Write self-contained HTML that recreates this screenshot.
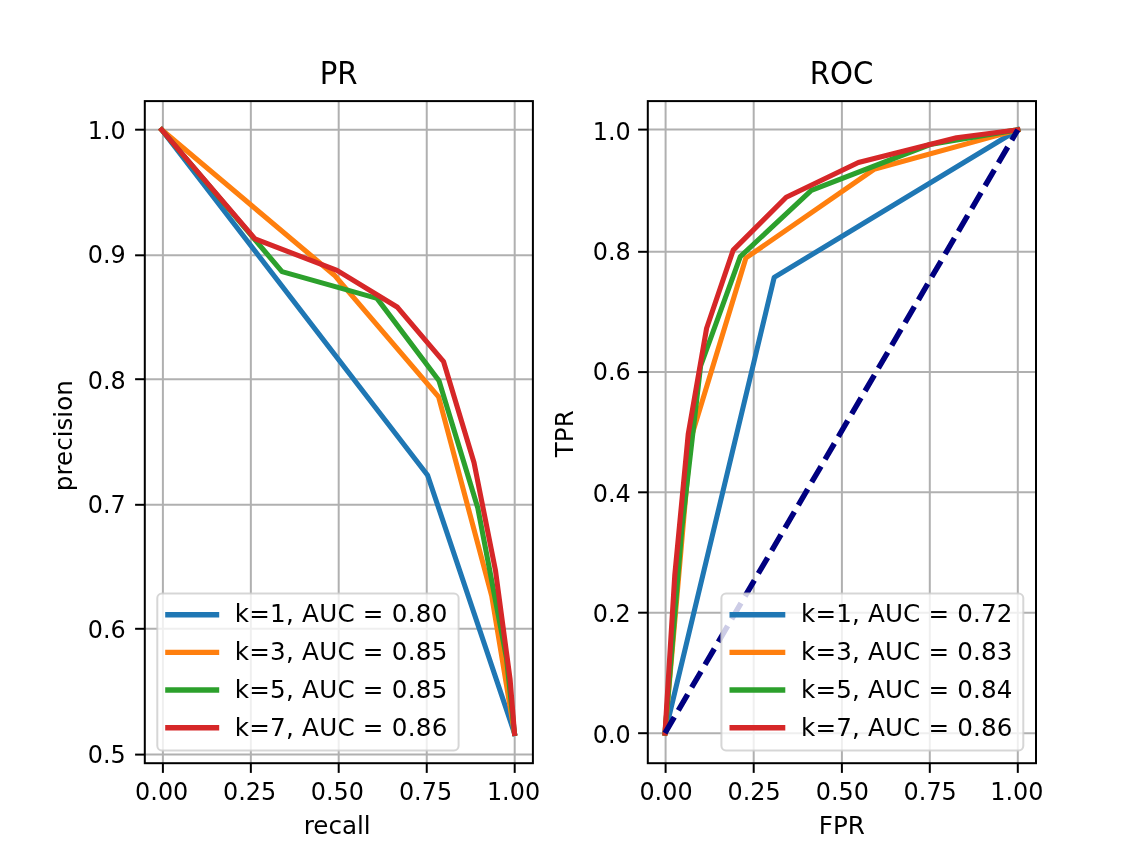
<!DOCTYPE html>
<html lang="en"><head><meta charset="utf-8"><title>PR and ROC curves</title>
<style>html,body{margin:0;padding:0;background:#fff;overflow:hidden}svg{display:block;filter:blur(0.5px)}</style>
</head><body>
<svg width="1142" height="852" viewBox="0 0 1142 852" font-family="'DejaVu Sans','Liberation Sans',sans-serif" font-size="24.6" fill="#000">
<rect width="1142" height="852" fill="#fff"/>
<defs>
<clipPath id="cl"><rect x="144.8" y="101.1" width="388.1" height="662.1"/></clipPath>
<clipPath id="cr"><rect x="647.8" y="101.1" width="388.2" height="662.1"/></clipPath>
</defs>
<g stroke="#b0b0b0" stroke-width="2.0" fill="none">
<line x1="162.9" y1="101.1" x2="162.9" y2="763.2"/>
<line x1="250.85" y1="101.1" x2="250.85" y2="763.2"/>
<line x1="338.7" y1="101.1" x2="338.7" y2="763.2"/>
<line x1="426.75" y1="101.1" x2="426.75" y2="763.2"/>
<line x1="514.7" y1="101.1" x2="514.7" y2="763.2"/>
<line x1="144.8" y1="129.7" x2="532.9" y2="129.7"/>
<line x1="144.8" y1="255.3" x2="532.9" y2="255.3"/>
<line x1="144.8" y1="379.2" x2="532.9" y2="379.2"/>
<line x1="144.8" y1="504.8" x2="532.9" y2="504.8"/>
<line x1="144.8" y1="628.8" x2="532.9" y2="628.8"/>
<line x1="144.8" y1="754.6" x2="532.9" y2="754.6"/>
</g>
<g clip-path="url(#cl)" fill="none" stroke-width="5.1" stroke-linejoin="round" stroke-linecap="square">
<polyline stroke="#1f77b4" points="161.7,129.8 427.6,475.2 514.5,733.4"/>
<polyline stroke="#ff7f0e" points="161.7,129.8 334.4,275.2 438.6,396.9 491.7,595.9 514.5,733.4"/>
<polyline stroke="#2ca02c" points="161.7,129.8 282.0,271.6 377.0,298.4 439.0,380.7 477.8,508.0 506.5,658.0 514.5,733.4"/>
<polyline stroke="#d62728" points="161.7,129.8 255.0,238.9 337.0,270.4 397.5,307.3 443.6,361.7 474.0,462.4 495.5,570.5 510.1,679.4 514.5,733.4"/>

</g>
<g stroke="#000" stroke-width="2.0">
<line x1="162.9" y1="763.2" x2="162.9" y2="772.9000000000001"/>
<line x1="250.85" y1="763.2" x2="250.85" y2="772.9000000000001"/>
<line x1="338.7" y1="763.2" x2="338.7" y2="772.9000000000001"/>
<line x1="426.75" y1="763.2" x2="426.75" y2="772.9000000000001"/>
<line x1="514.7" y1="763.2" x2="514.7" y2="772.9000000000001"/>
<line x1="135.10000000000002" y1="129.7" x2="144.8" y2="129.7"/>
<line x1="135.10000000000002" y1="255.3" x2="144.8" y2="255.3"/>
<line x1="135.10000000000002" y1="379.2" x2="144.8" y2="379.2"/>
<line x1="135.10000000000002" y1="504.8" x2="144.8" y2="504.8"/>
<line x1="135.10000000000002" y1="628.8" x2="144.8" y2="628.8"/>
<line x1="135.10000000000002" y1="754.6" x2="144.8" y2="754.6"/>
</g>
<rect x="144.8" y="101.1" width="388.1" height="662.1" fill="none" stroke="#000" stroke-width="2.0"/>
<g font-size="23.9">
<text x="161.7" y="800.2" text-anchor="middle">0.00</text>
<text x="249.6" y="800.2" text-anchor="middle">0.25</text>
<text x="337.4" y="800.2" text-anchor="middle">0.50</text>
<text x="425.5" y="800.2" text-anchor="middle">0.75</text>
<text x="513.5" y="800.2" text-anchor="middle">1.00</text>
<text x="125.7" y="139.3" text-anchor="end">1.0</text>
<text x="125.7" y="263.3" text-anchor="end">0.9</text>
<text x="125.7" y="388.6" text-anchor="end">0.8</text>
<text x="125.7" y="513.0" text-anchor="end">0.7</text>
<text x="125.7" y="637.5" text-anchor="end">0.6</text>
<text x="125.7" y="763.0" text-anchor="end">0.5</text>
</g>
<text x="337.2" y="834" text-anchor="middle">recall</text>
<text transform="translate(71.6,435.7) rotate(-90)" text-anchor="middle">precision</text>
<text transform="translate(338.6,83.8) scale(0.925,1)" text-anchor="middle" font-size="31.6">PR</text>
<rect x="157.3" y="593.5" width="301.3" height="156.9" rx="4.6" ry="4.6" fill="#fff" fill-opacity="0.8" stroke="#ccc" stroke-opacity="0.8" stroke-width="2.0"/>
<line x1="165.2" y1="614.7" x2="219.2" y2="614.7" stroke="#1f77b4" stroke-width="5.4"/>
<text x="234.7" y="622.4" textLength="212.6" lengthAdjust="spacing">k=1, AUC = 0.80</text>
<line x1="165.2" y1="652.4" x2="219.2" y2="652.4" stroke="#ff7f0e" stroke-width="5.4"/>
<text x="234.7" y="660.1" textLength="212.6" lengthAdjust="spacing">k=3, AUC = 0.85</text>
<line x1="165.2" y1="690.0" x2="219.2" y2="690.0" stroke="#2ca02c" stroke-width="5.4"/>
<text x="234.7" y="697.7" textLength="212.6" lengthAdjust="spacing">k=5, AUC = 0.85</text>
<line x1="165.2" y1="727.8" x2="219.2" y2="727.8" stroke="#d62728" stroke-width="5.4"/>
<text x="234.7" y="735.5" textLength="212.6" lengthAdjust="spacing">k=7, AUC = 0.86</text>
<g stroke="#b0b0b0" stroke-width="2.0" fill="none">
<line x1="665.6" y1="101.1" x2="665.6" y2="763.2"/>
<line x1="753.7" y1="101.1" x2="753.7" y2="763.2"/>
<line x1="841.9" y1="101.1" x2="841.9" y2="763.2"/>
<line x1="929.8" y1="101.1" x2="929.8" y2="763.2"/>
<line x1="1017.8" y1="101.1" x2="1017.8" y2="763.2"/>
<line x1="647.8" y1="129.6" x2="1036.0" y2="129.6"/>
<line x1="647.8" y1="251.8" x2="1036.0" y2="251.8"/>
<line x1="647.8" y1="372.1" x2="1036.0" y2="372.1"/>
<line x1="647.8" y1="492.3" x2="1036.0" y2="492.3"/>
<line x1="647.8" y1="612.7" x2="1036.0" y2="612.7"/>
<line x1="647.8" y1="733.2" x2="1036.0" y2="733.2"/>
</g>
<g clip-path="url(#cr)" fill="none" stroke-width="5.1" stroke-linejoin="round" stroke-linecap="square">
<polyline stroke="#1f77b4" points="665.0,733.1 774.2,277.4 1017.8,129.8"/>
<polyline stroke="#ff7f0e" points="665.0,733.1 690.7,439.0 745.9,258.0 874.0,169.3 1017.8,129.8"/>
<polyline stroke="#2ca02c" points="665.0,733.1 681.8,528.8 700.6,366.0 740.3,256.6 811.3,190.4 930.0,144.5 1017.8,129.8"/>
<polyline stroke="#d62728" points="665.0,733.1 674.8,575.0 688.2,434.3 706.6,328.2 733.2,250.1 786.2,197.2 858.4,162.5 956.5,137.7 1017.8,129.8"/>
<line x1="665.0" y1="733.1" x2="1017.8" y2="129.8" stroke="#000080" stroke-dasharray="18.45 7.97" stroke-width="5.5" stroke-linecap="butt"/>
</g>
<g stroke="#000" stroke-width="2.0">
<line x1="665.6" y1="763.2" x2="665.6" y2="772.9000000000001"/>
<line x1="753.7" y1="763.2" x2="753.7" y2="772.9000000000001"/>
<line x1="841.9" y1="763.2" x2="841.9" y2="772.9000000000001"/>
<line x1="929.8" y1="763.2" x2="929.8" y2="772.9000000000001"/>
<line x1="1017.8" y1="763.2" x2="1017.8" y2="772.9000000000001"/>
<line x1="638.0999999999999" y1="129.6" x2="647.8" y2="129.6"/>
<line x1="638.0999999999999" y1="251.8" x2="647.8" y2="251.8"/>
<line x1="638.0999999999999" y1="372.1" x2="647.8" y2="372.1"/>
<line x1="638.0999999999999" y1="492.3" x2="647.8" y2="492.3"/>
<line x1="638.0999999999999" y1="612.7" x2="647.8" y2="612.7"/>
<line x1="638.0999999999999" y1="733.2" x2="647.8" y2="733.2"/>
</g>
<rect x="647.8" y="101.1" width="388.2" height="662.1" fill="none" stroke="#000" stroke-width="2.0"/>
<g font-size="23.9">
<text x="666.0" y="800.2" text-anchor="middle">0.00</text>
<text x="754.1" y="800.2" text-anchor="middle">0.25</text>
<text x="842.3" y="800.2" text-anchor="middle">0.50</text>
<text x="930.2" y="800.2" text-anchor="middle">0.75</text>
<text x="1016.8" y="800.2" text-anchor="middle">1.00</text>
<text x="630.8" y="139.6" text-anchor="end">1.0</text>
<text x="630.8" y="259.6" text-anchor="end">0.8</text>
<text x="630.8" y="380.0" text-anchor="end">0.6</text>
<text x="630.8" y="501.7" text-anchor="end">0.4</text>
<text x="630.8" y="621.7" text-anchor="end">0.2</text>
<text x="630.8" y="742.9" text-anchor="end">0.0</text>
</g>
<text x="841.9" y="834" text-anchor="middle">FPR</text>
<text transform="translate(573.2,433.7) rotate(-90)" text-anchor="middle">TPR</text>
<text transform="translate(841.6,83.8) scale(0.925,1)" text-anchor="middle" font-size="31.6">ROC</text>
<rect x="721.4" y="593.5" width="301.9" height="156.9" rx="4.6" ry="4.6" fill="#fff" fill-opacity="0.8" stroke="#ccc" stroke-opacity="0.8" stroke-width="2.0"/>
<line x1="729.5" y1="614.7" x2="785.3" y2="614.7" stroke="#1f77b4" stroke-width="5.4"/>
<text x="801.0" y="622.4" textLength="211.4" lengthAdjust="spacing">k=1, AUC = 0.72</text>
<line x1="729.5" y1="652.4" x2="785.3" y2="652.4" stroke="#ff7f0e" stroke-width="5.4"/>
<text x="801.0" y="660.1" textLength="211.4" lengthAdjust="spacing">k=3, AUC = 0.83</text>
<line x1="729.5" y1="690.0" x2="785.3" y2="690.0" stroke="#2ca02c" stroke-width="5.4"/>
<text x="801.0" y="697.7" textLength="211.4" lengthAdjust="spacing">k=5, AUC = 0.84</text>
<line x1="729.5" y1="727.8" x2="785.3" y2="727.8" stroke="#d62728" stroke-width="5.4"/>
<text x="801.0" y="735.5" textLength="211.4" lengthAdjust="spacing">k=7, AUC = 0.86</text>
</svg>
</body></html>
